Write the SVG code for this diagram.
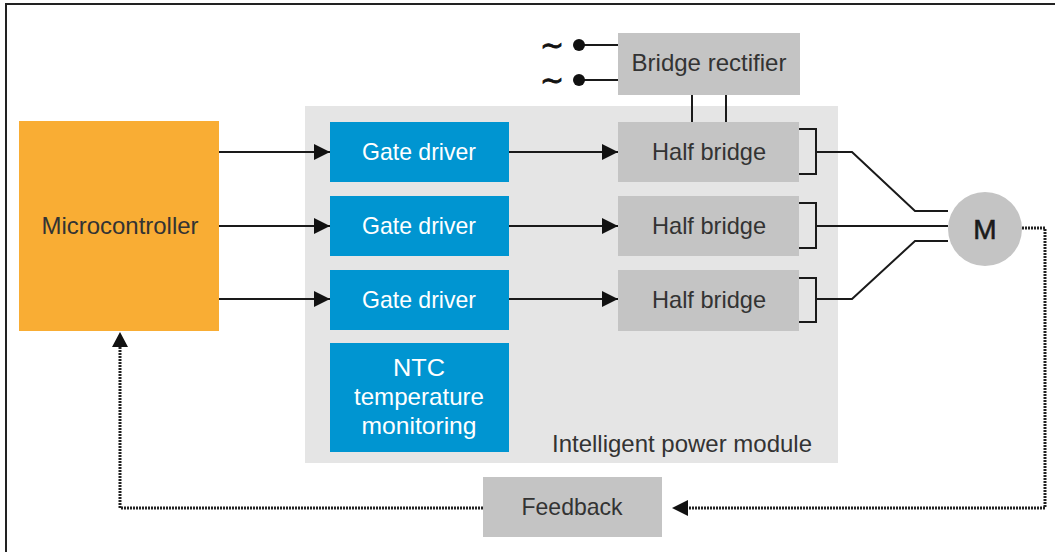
<svg xmlns="http://www.w3.org/2000/svg" width="1055" height="552" viewBox="0 0 1055 552">
<defs>
<style>
.t{font-family:"Liberation Sans Narrow","Liberation Sans",Arial,sans-serif;font-size:24px;text-anchor:middle}
.w{fill:#ffffff}
.d{fill:#333333}
.gd{fill:#0095d1}
.hb{fill:#c4c4c4}
.ln{stroke:#1a1a1a;stroke-width:2;fill:none}
.dot{stroke:#222;stroke-width:3;stroke-dasharray:2 1;fill:none}
.tl{font-family:"DejaVu Sans",sans-serif;font-size:28px;text-anchor:middle;fill:#111;stroke:#111;stroke-width:0.8}
</style>
<marker id="ah" viewBox="0 0 16 16" refX="16" refY="8" markerWidth="16" markerHeight="16" markerUnits="userSpaceOnUse" orient="auto">
<path d="M0,0 L16,8 L0,16 Z" fill="#111"/>
</marker>
</defs>
<rect width="1055" height="552" fill="#ffffff"/>
<rect x="6" y="4" width="1070" height="570" fill="none" stroke="#222" stroke-width="2"/>

<g id="ipm">
<rect x="305" y="106" width="533" height="357" fill="#e5e5e5"/>
<text class="t d" x="682" y="452" textLength="260" lengthAdjust="spacingAndGlyphs">Intelligent power module</text>
</g>

<g id="mcu">
<rect x="19" y="121" width="200" height="210" fill="#f9ad34"/>
<text class="t d" x="120" y="234" textLength="157" lengthAdjust="spacingAndGlyphs">Microcontroller</text>
</g>

<g id="gd1"><rect class="gd" x="330" y="122" width="179" height="60"/><text class="t w" x="419" y="160" textLength="114" lengthAdjust="spacingAndGlyphs">Gate driver</text></g>
<g id="gd2"><rect class="gd" x="330" y="196" width="179" height="60"/><text class="t w" x="419" y="234" textLength="114" lengthAdjust="spacingAndGlyphs">Gate driver</text></g>
<g id="gd3"><rect class="gd" x="330" y="270" width="179" height="60"/><text class="t w" x="419" y="308" textLength="114" lengthAdjust="spacingAndGlyphs">Gate driver</text></g>
<g id="ntc"><rect class="gd" x="330" y="343" width="179" height="109"/>
<text class="t w" x="419" y="376" textLength="52" lengthAdjust="spacingAndGlyphs">NTC</text>
<text class="t w" x="419" y="405" textLength="130" lengthAdjust="spacingAndGlyphs">temperature</text>
<text class="t w" x="419" y="434" textLength="115" lengthAdjust="spacingAndGlyphs">monitoring</text>
</g>

<g id="hb1"><rect class="hb" x="618" y="122" width="181" height="60"/><text class="t d" x="709" y="160" textLength="114" lengthAdjust="spacingAndGlyphs">Half bridge</text></g>
<g id="hb2"><rect class="hb" x="618" y="196" width="181" height="60"/><text class="t d" x="709" y="234" textLength="114" lengthAdjust="spacingAndGlyphs">Half bridge</text></g>
<g id="hb3"><rect class="hb" x="618" y="270" width="181" height="61"/><text class="t d" x="709" y="308" textLength="114" lengthAdjust="spacingAndGlyphs">Half bridge</text></g>

<g id="rect">
<rect class="hb" x="618" y="33" width="182" height="62"/>
<text class="t d" x="709" y="71" textLength="155" lengthAdjust="spacingAndGlyphs">Bridge rectifier</text>
</g>

<g id="motor">
<circle cx="985" cy="229" r="37" fill="#c4c4c4"/>
<text x="985" y="239" font-family="Liberation Sans,Arial,sans-serif" font-size="28" text-anchor="middle" fill="#1a1a1a" stroke="#1a1a1a" stroke-width="0.6">M</text>
</g>

<g id="feedback">
<rect class="hb" x="483" y="477" width="179" height="60"/>
<text class="t d" x="572" y="515" textLength="101" lengthAdjust="spacingAndGlyphs">Feedback</text>
</g>

<g id="connectors">
<path class="ln" d="M219,152 H330" marker-end="url(#ah)"/>
<path class="ln" d="M219,226 H330" marker-end="url(#ah)"/>
<path class="ln" d="M219,299 H330" marker-end="url(#ah)"/>
<path class="ln" d="M509,152 H618" marker-end="url(#ah)"/>
<path class="ln" d="M509,226 H618" marker-end="url(#ah)"/>
<path class="ln" d="M509,299 H618" marker-end="url(#ah)"/>
<path class="ln" d="M692,95 V122 M726,95 V122"/>
<path class="ln" stroke-width="1.5" d="M579,45 H618 M579,80 H618"/>
<circle cx="579" cy="45" r="6" fill="#111"/>
<circle cx="579" cy="80" r="6" fill="#111"/>
<text class="tl" x="552" y="55" textLength="24" lengthAdjust="spacingAndGlyphs">~</text>
<text class="tl" x="552" y="90" textLength="24" lengthAdjust="spacingAndGlyphs">~</text>
<path class="ln" d="M799,129 H816 V174 H799 M816,152 H852 L915,211 H948"/>
<path class="ln" d="M799,203 H816 V248 H799 M816,226 H948"/>
<path class="ln" d="M799,278 H816 V322 H799 M816,299 H852 L915,241 H948"/>
<path class="dot" d="M1022,228 H1045 V508 H686"/>
<path d="M672,508 L688,500 L688,516 Z" fill="#111"/>
<path class="dot" d="M483,508 H120 V345"/>
<path d="M120,332 L112,347 L128,347 Z" fill="#111"/>
</g>
</svg>
